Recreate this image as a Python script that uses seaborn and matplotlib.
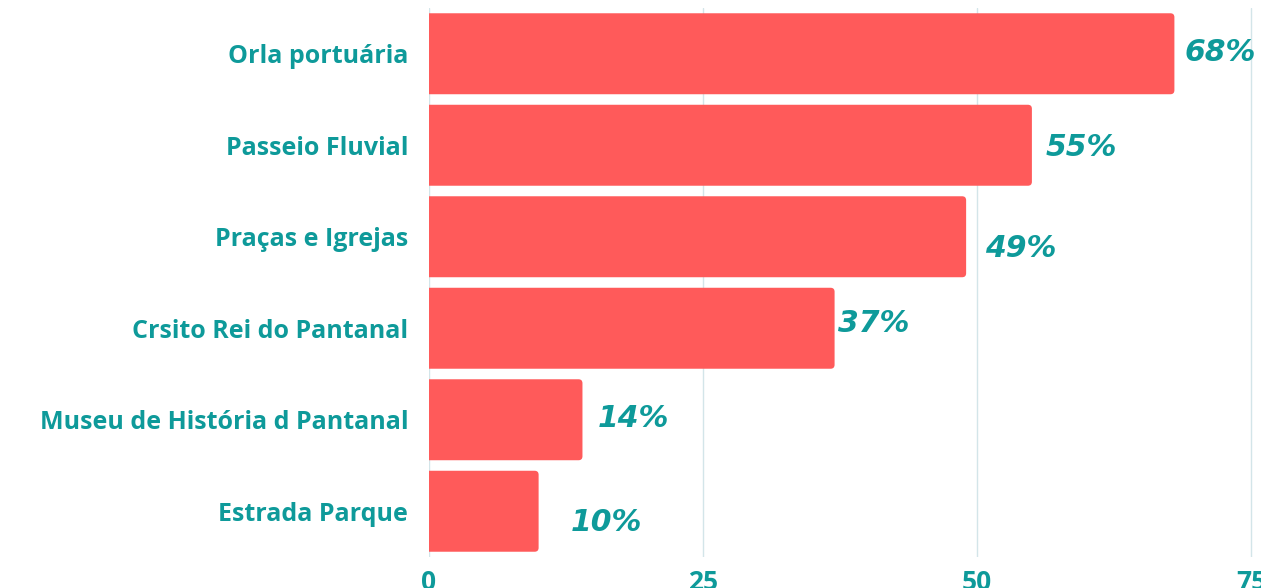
import numpy as np
import pandas as pd
import seaborn as sns
import matplotlib.pyplot as plt
from matplotlib.patches import FancyBboxPatch

# data
places = ["Orla portuária", "Passeio Fluvial", "Praças e Igrejas",
          "Crsito Rei do Pantanal", "Museu de História d Pantanal", "Estrada Parque"]
shares = [68, 55, 49, 37, 14, 10]
tick_vals = [0, 25, 50, 75]

# label nudges (pixels, right / down) to mimic the uneven placement in the original
lab_dx = [10, 14, 19, 3, 15, 32]
lab_dy = [-1, 2, 12, -5, -1, 11]

teal = "#0e9a9a"
red = "#ff5a5a"

sns.set_theme(style="white")
plt.rcParams['font.family'] = ['Open Sans', 'DejaVu Sans']

df = pd.DataFrame({"place": places, "share": shares})

fig = plt.figure(figsize=(12.61, 5.88), dpi=100)
ax = fig.add_axes([429/1261, 1-557/588, 832/1261, 549/588])

sns.barplot(data=df, x="share", y="place", color=red, saturation=1,
            width=0.885, ax=ax, zorder=2)

ax.set_xlim(0, 75.9)
ax.set_ylim(5.5, -0.5)

# swap plain rectangles for rounded ones
px_x = 75.9/832
px_y = 6/549
r = 4*px_x
for p in list(ax.patches):
    x0, y0, w, h = p.get_x(), p.get_y(), p.get_width(), p.get_height()
    p.remove()
    fb = FancyBboxPatch((x0-1, y0), w+1, h,
                        boxstyle="round,pad=0,rounding_size=%f" % r,
                        mutation_aspect=px_y/px_x, facecolor=red,
                        edgecolor="none", zorder=2)
    ax.add_patch(fb)

for i, v in enumerate(shares):
    ax.annotate("%d%%" % v, xy=(v, i), xytext=(lab_dx[i]*0.72, -lab_dy[i]*0.72),
                textcoords="offset points", ha="left", va="center",
                fontsize=21.5, fontweight="bold", fontstyle="italic", color=teal,
                family="DejaVu Sans")

ax.set_xticks(tick_vals)
ax.set_xticklabels([str(t) for t in tick_vals])
ax.grid(axis="x", color="#d3e5e9", linewidth=1, zorder=0)
ax.set_axisbelow(True)
for s in ax.spines.values():
    s.set_visible(False)
ax.tick_params(axis="x", length=0, pad=9, labelsize=19, labelcolor=teal)
ax.tick_params(axis="y", length=0, pad=15, labelsize=18, labelcolor=teal)
for t in ax.get_xticklabels() + ax.get_yticklabels():
    t.set_fontweight("bold")
ax.set_xlabel("")
ax.set_ylabel("")

fig.savefig("out.png", dpi=100)
